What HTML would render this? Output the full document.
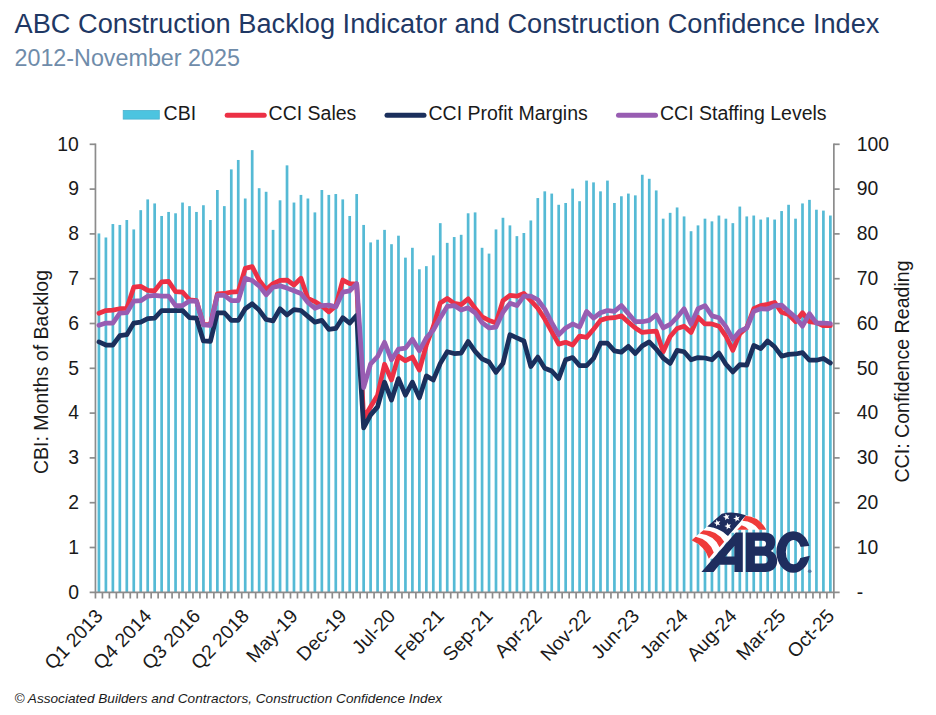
<!DOCTYPE html>
<html><head><meta charset="utf-8"><title>ABC CBI and CCI</title>
<style>html,body{margin:0;padding:0;background:#fff;}body{width:936px;height:715px;overflow:hidden;position:relative;font-family:"Liberation Sans",sans-serif;}svg{position:absolute;left:0;top:0;}text{font-family:"Liberation Sans",sans-serif;}</style>
</head><body>
<svg width="936" height="715" viewBox="0 0 936 715">
<rect width="936" height="715" fill="#ffffff"/>
<text x="14.5" y="32.8" font-size="27.21" fill="#1f3864">ABC Construction Backlog Indicator and Construction Confidence Index</text>
<text x="14.5" y="65.5" font-size="23.3" fill="#6f8caa">2012-November 2025</text>
<rect x="123.2" y="110.4" width="36.1" height="8.7" fill="#4cc4e0" stroke="#4bb2cf" stroke-width="0.8"/>
<text x="163.6" y="120.2" font-size="19.5" fill="#1a1a1a">CBI</text>
<line x1="227.2" y1="115.2" x2="264.2" y2="115.2" stroke="#ec3045" stroke-width="5" stroke-linecap="round"/>
<text x="268.6" y="120.2" font-size="19.5" fill="#1a1a1a">CCI Sales</text>
<line x1="387" y1="115.2" x2="424" y2="115.2" stroke="#1b2f5c" stroke-width="5" stroke-linecap="round"/>
<text x="428.5" y="120.2" font-size="19.5" fill="#1a1a1a">CCI Profit Margins</text>
<line x1="618.5" y1="115.2" x2="655.5" y2="115.2" stroke="#985db2" stroke-width="5" stroke-linecap="round"/>
<text x="660" y="120.2" font-size="19.5" fill="#1a1a1a">CCI Staffing Levels</text>
<g fill="#55bad5">
<rect x="97.58" y="233.45" width="2.7" height="358.85"/>
<rect x="104.55" y="237.48" width="2.7" height="354.82"/>
<rect x="111.52" y="224.04" width="2.7" height="368.26"/>
<rect x="118.48" y="224.94" width="2.7" height="367.36"/>
<rect x="125.45" y="220.01" width="2.7" height="372.29"/>
<rect x="132.41" y="229.42" width="2.7" height="362.88"/>
<rect x="139.38" y="210.16" width="2.7" height="382.14"/>
<rect x="146.35" y="199.40" width="2.7" height="392.90"/>
<rect x="153.31" y="203.44" width="2.7" height="388.86"/>
<rect x="160.28" y="215.98" width="2.7" height="376.32"/>
<rect x="167.24" y="211.95" width="2.7" height="380.35"/>
<rect x="174.21" y="213.29" width="2.7" height="379.01"/>
<rect x="181.18" y="202.54" width="2.7" height="389.76"/>
<rect x="188.14" y="206.12" width="2.7" height="386.18"/>
<rect x="195.11" y="211.95" width="2.7" height="380.35"/>
<rect x="202.07" y="205.23" width="2.7" height="387.07"/>
<rect x="209.04" y="220.01" width="2.7" height="372.29"/>
<rect x="216.01" y="190.00" width="2.7" height="402.30"/>
<rect x="222.97" y="206.12" width="2.7" height="386.18"/>
<rect x="229.94" y="169.39" width="2.7" height="422.91"/>
<rect x="236.90" y="159.98" width="2.7" height="432.32"/>
<rect x="243.87" y="198.51" width="2.7" height="393.79"/>
<rect x="250.84" y="150.12" width="2.7" height="442.18"/>
<rect x="257.80" y="188.20" width="2.7" height="404.10"/>
<rect x="264.77" y="191.79" width="2.7" height="400.51"/>
<rect x="271.73" y="229.87" width="2.7" height="362.43"/>
<rect x="278.70" y="200.30" width="2.7" height="392.00"/>
<rect x="285.67" y="165.36" width="2.7" height="426.94"/>
<rect x="292.63" y="202.54" width="2.7" height="389.76"/>
<rect x="299.60" y="194.92" width="2.7" height="397.38"/>
<rect x="306.56" y="198.51" width="2.7" height="393.79"/>
<rect x="313.53" y="212.40" width="2.7" height="379.90"/>
<rect x="320.50" y="190.00" width="2.7" height="402.30"/>
<rect x="327.46" y="194.92" width="2.7" height="397.38"/>
<rect x="334.43" y="194.03" width="2.7" height="398.27"/>
<rect x="341.39" y="199.40" width="2.7" height="392.90"/>
<rect x="348.36" y="215.98" width="2.7" height="376.32"/>
<rect x="355.33" y="194.03" width="2.7" height="398.27"/>
<rect x="362.29" y="224.94" width="2.7" height="367.36"/>
<rect x="369.26" y="242.41" width="2.7" height="349.89"/>
<rect x="376.22" y="239.72" width="2.7" height="352.58"/>
<rect x="383.19" y="229.87" width="2.7" height="362.43"/>
<rect x="390.16" y="244.20" width="2.7" height="348.10"/>
<rect x="397.12" y="235.69" width="2.7" height="356.61"/>
<rect x="404.09" y="257.64" width="2.7" height="334.66"/>
<rect x="411.05" y="247.79" width="2.7" height="344.51"/>
<rect x="418.02" y="269.29" width="2.7" height="323.01"/>
<rect x="424.99" y="266.16" width="2.7" height="326.14"/>
<rect x="431.95" y="255.40" width="2.7" height="336.90"/>
<rect x="438.92" y="223.15" width="2.7" height="369.15"/>
<rect x="445.88" y="242.86" width="2.7" height="349.44"/>
<rect x="452.85" y="237.04" width="2.7" height="355.26"/>
<rect x="459.82" y="234.80" width="2.7" height="357.50"/>
<rect x="466.78" y="213.29" width="2.7" height="379.01"/>
<rect x="473.75" y="212.40" width="2.7" height="379.90"/>
<rect x="480.72" y="247.79" width="2.7" height="344.51"/>
<rect x="487.68" y="253.61" width="2.7" height="338.69"/>
<rect x="494.65" y="229.42" width="2.7" height="362.88"/>
<rect x="501.61" y="217.77" width="2.7" height="374.53"/>
<rect x="508.58" y="225.39" width="2.7" height="366.91"/>
<rect x="515.55" y="236.14" width="2.7" height="356.16"/>
<rect x="522.51" y="233.00" width="2.7" height="359.30"/>
<rect x="529.48" y="220.46" width="2.7" height="371.84"/>
<rect x="536.44" y="198.06" width="2.7" height="394.24"/>
<rect x="543.41" y="191.34" width="2.7" height="400.96"/>
<rect x="550.38" y="193.58" width="2.7" height="398.72"/>
<rect x="557.34" y="204.78" width="2.7" height="387.52"/>
<rect x="564.31" y="202.99" width="2.7" height="389.31"/>
<rect x="571.27" y="188.65" width="2.7" height="403.65"/>
<rect x="578.24" y="201.20" width="2.7" height="391.10"/>
<rect x="585.21" y="180.59" width="2.7" height="411.71"/>
<rect x="592.17" y="182.38" width="2.7" height="409.92"/>
<rect x="599.14" y="191.34" width="2.7" height="400.96"/>
<rect x="606.10" y="180.59" width="2.7" height="411.71"/>
<rect x="613.07" y="202.99" width="2.7" height="389.31"/>
<rect x="620.04" y="196.27" width="2.7" height="396.03"/>
<rect x="627.00" y="193.58" width="2.7" height="398.72"/>
<rect x="633.97" y="195.37" width="2.7" height="396.93"/>
<rect x="640.93" y="174.76" width="2.7" height="417.54"/>
<rect x="647.90" y="178.80" width="2.7" height="413.50"/>
<rect x="654.87" y="190.44" width="2.7" height="401.86"/>
<rect x="661.83" y="218.67" width="2.7" height="373.63"/>
<rect x="668.80" y="212.84" width="2.7" height="379.46"/>
<rect x="675.76" y="207.47" width="2.7" height="384.83"/>
<rect x="682.73" y="216.43" width="2.7" height="375.87"/>
<rect x="689.70" y="231.21" width="2.7" height="361.09"/>
<rect x="696.66" y="225.39" width="2.7" height="366.91"/>
<rect x="703.63" y="218.67" width="2.7" height="373.63"/>
<rect x="710.59" y="221.36" width="2.7" height="370.94"/>
<rect x="717.56" y="215.53" width="2.7" height="376.77"/>
<rect x="724.53" y="218.67" width="2.7" height="373.63"/>
<rect x="731.49" y="223.15" width="2.7" height="369.15"/>
<rect x="738.46" y="206.57" width="2.7" height="385.73"/>
<rect x="745.42" y="216.43" width="2.7" height="375.87"/>
<rect x="752.39" y="215.53" width="2.7" height="376.77"/>
<rect x="759.36" y="219.56" width="2.7" height="372.74"/>
<rect x="766.32" y="217.32" width="2.7" height="374.98"/>
<rect x="773.29" y="219.56" width="2.7" height="372.74"/>
<rect x="780.25" y="211.05" width="2.7" height="381.25"/>
<rect x="787.22" y="204.78" width="2.7" height="387.52"/>
<rect x="794.19" y="218.67" width="2.7" height="373.63"/>
<rect x="801.15" y="203.44" width="2.7" height="388.86"/>
<rect x="808.12" y="199.85" width="2.7" height="392.45"/>
<rect x="815.08" y="209.71" width="2.7" height="382.59"/>
<rect x="822.05" y="210.60" width="2.7" height="381.70"/>
<rect x="829.02" y="215.53" width="2.7" height="376.77"/>
</g>
<g stroke="#8c8c8c" stroke-width="1.7" fill="none">
<line x1="95.45" y1="143.55" x2="95.45" y2="593.05"/>
<line x1="833.85" y1="143.55" x2="833.85" y2="593.05"/>
<line x1="89.65" y1="592.3" x2="839.65" y2="592.3"/>
<line x1="89.65" y1="547.50" x2="95.45" y2="547.50"/>
<line x1="833.85" y1="547.50" x2="839.65" y2="547.50"/>
<line x1="89.65" y1="502.70" x2="95.45" y2="502.70"/>
<line x1="833.85" y1="502.70" x2="839.65" y2="502.70"/>
<line x1="89.65" y1="457.90" x2="95.45" y2="457.90"/>
<line x1="833.85" y1="457.90" x2="839.65" y2="457.90"/>
<line x1="89.65" y1="413.10" x2="95.45" y2="413.10"/>
<line x1="833.85" y1="413.10" x2="839.65" y2="413.10"/>
<line x1="89.65" y1="368.30" x2="95.45" y2="368.30"/>
<line x1="833.85" y1="368.30" x2="839.65" y2="368.30"/>
<line x1="89.65" y1="323.50" x2="95.45" y2="323.50"/>
<line x1="833.85" y1="323.50" x2="839.65" y2="323.50"/>
<line x1="89.65" y1="278.70" x2="95.45" y2="278.70"/>
<line x1="833.85" y1="278.70" x2="839.65" y2="278.70"/>
<line x1="89.65" y1="233.90" x2="95.45" y2="233.90"/>
<line x1="833.85" y1="233.90" x2="839.65" y2="233.90"/>
<line x1="89.65" y1="189.10" x2="95.45" y2="189.10"/>
<line x1="833.85" y1="189.10" x2="839.65" y2="189.10"/>
<line x1="89.65" y1="144.30" x2="95.45" y2="144.30"/>
<line x1="833.85" y1="144.30" x2="839.65" y2="144.30"/>
<line x1="95.45" y1="592.3" x2="95.45" y2="598.5"/>
<line x1="102.42" y1="592.3" x2="102.42" y2="598.5"/>
<line x1="109.38" y1="592.3" x2="109.38" y2="598.5"/>
<line x1="116.35" y1="592.3" x2="116.35" y2="598.5"/>
<line x1="123.31" y1="592.3" x2="123.31" y2="598.5"/>
<line x1="130.28" y1="592.3" x2="130.28" y2="598.5"/>
<line x1="137.25" y1="592.3" x2="137.25" y2="598.5"/>
<line x1="144.21" y1="592.3" x2="144.21" y2="598.5"/>
<line x1="151.18" y1="592.3" x2="151.18" y2="598.5"/>
<line x1="158.14" y1="592.3" x2="158.14" y2="598.5"/>
<line x1="165.11" y1="592.3" x2="165.11" y2="598.5"/>
<line x1="172.08" y1="592.3" x2="172.08" y2="598.5"/>
<line x1="179.04" y1="592.3" x2="179.04" y2="598.5"/>
<line x1="186.01" y1="592.3" x2="186.01" y2="598.5"/>
<line x1="192.97" y1="592.3" x2="192.97" y2="598.5"/>
<line x1="199.94" y1="592.3" x2="199.94" y2="598.5"/>
<line x1="206.91" y1="592.3" x2="206.91" y2="598.5"/>
<line x1="213.87" y1="592.3" x2="213.87" y2="598.5"/>
<line x1="220.84" y1="592.3" x2="220.84" y2="598.5"/>
<line x1="227.80" y1="592.3" x2="227.80" y2="598.5"/>
<line x1="234.77" y1="592.3" x2="234.77" y2="598.5"/>
<line x1="241.74" y1="592.3" x2="241.74" y2="598.5"/>
<line x1="248.70" y1="592.3" x2="248.70" y2="598.5"/>
<line x1="255.67" y1="592.3" x2="255.67" y2="598.5"/>
<line x1="262.63" y1="592.3" x2="262.63" y2="598.5"/>
<line x1="269.60" y1="592.3" x2="269.60" y2="598.5"/>
<line x1="276.57" y1="592.3" x2="276.57" y2="598.5"/>
<line x1="283.53" y1="592.3" x2="283.53" y2="598.5"/>
<line x1="290.50" y1="592.3" x2="290.50" y2="598.5"/>
<line x1="297.47" y1="592.3" x2="297.47" y2="598.5"/>
<line x1="304.43" y1="592.3" x2="304.43" y2="598.5"/>
<line x1="311.40" y1="592.3" x2="311.40" y2="598.5"/>
<line x1="318.36" y1="592.3" x2="318.36" y2="598.5"/>
<line x1="325.33" y1="592.3" x2="325.33" y2="598.5"/>
<line x1="332.30" y1="592.3" x2="332.30" y2="598.5"/>
<line x1="339.26" y1="592.3" x2="339.26" y2="598.5"/>
<line x1="346.23" y1="592.3" x2="346.23" y2="598.5"/>
<line x1="353.19" y1="592.3" x2="353.19" y2="598.5"/>
<line x1="360.16" y1="592.3" x2="360.16" y2="598.5"/>
<line x1="367.13" y1="592.3" x2="367.13" y2="598.5"/>
<line x1="374.09" y1="592.3" x2="374.09" y2="598.5"/>
<line x1="381.06" y1="592.3" x2="381.06" y2="598.5"/>
<line x1="388.02" y1="592.3" x2="388.02" y2="598.5"/>
<line x1="394.99" y1="592.3" x2="394.99" y2="598.5"/>
<line x1="401.96" y1="592.3" x2="401.96" y2="598.5"/>
<line x1="408.92" y1="592.3" x2="408.92" y2="598.5"/>
<line x1="415.89" y1="592.3" x2="415.89" y2="598.5"/>
<line x1="422.85" y1="592.3" x2="422.85" y2="598.5"/>
<line x1="429.82" y1="592.3" x2="429.82" y2="598.5"/>
<line x1="436.79" y1="592.3" x2="436.79" y2="598.5"/>
<line x1="443.75" y1="592.3" x2="443.75" y2="598.5"/>
<line x1="450.72" y1="592.3" x2="450.72" y2="598.5"/>
<line x1="457.68" y1="592.3" x2="457.68" y2="598.5"/>
<line x1="464.65" y1="592.3" x2="464.65" y2="598.5"/>
<line x1="471.62" y1="592.3" x2="471.62" y2="598.5"/>
<line x1="478.58" y1="592.3" x2="478.58" y2="598.5"/>
<line x1="485.55" y1="592.3" x2="485.55" y2="598.5"/>
<line x1="492.51" y1="592.3" x2="492.51" y2="598.5"/>
<line x1="499.48" y1="592.3" x2="499.48" y2="598.5"/>
<line x1="506.45" y1="592.3" x2="506.45" y2="598.5"/>
<line x1="513.41" y1="592.3" x2="513.41" y2="598.5"/>
<line x1="520.38" y1="592.3" x2="520.38" y2="598.5"/>
<line x1="527.34" y1="592.3" x2="527.34" y2="598.5"/>
<line x1="534.31" y1="592.3" x2="534.31" y2="598.5"/>
<line x1="541.28" y1="592.3" x2="541.28" y2="598.5"/>
<line x1="548.24" y1="592.3" x2="548.24" y2="598.5"/>
<line x1="555.21" y1="592.3" x2="555.21" y2="598.5"/>
<line x1="562.17" y1="592.3" x2="562.17" y2="598.5"/>
<line x1="569.14" y1="592.3" x2="569.14" y2="598.5"/>
<line x1="576.11" y1="592.3" x2="576.11" y2="598.5"/>
<line x1="583.07" y1="592.3" x2="583.07" y2="598.5"/>
<line x1="590.04" y1="592.3" x2="590.04" y2="598.5"/>
<line x1="597.00" y1="592.3" x2="597.00" y2="598.5"/>
<line x1="603.97" y1="592.3" x2="603.97" y2="598.5"/>
<line x1="610.94" y1="592.3" x2="610.94" y2="598.5"/>
<line x1="617.90" y1="592.3" x2="617.90" y2="598.5"/>
<line x1="624.87" y1="592.3" x2="624.87" y2="598.5"/>
<line x1="631.83" y1="592.3" x2="631.83" y2="598.5"/>
<line x1="638.80" y1="592.3" x2="638.80" y2="598.5"/>
<line x1="645.77" y1="592.3" x2="645.77" y2="598.5"/>
<line x1="652.73" y1="592.3" x2="652.73" y2="598.5"/>
<line x1="659.70" y1="592.3" x2="659.70" y2="598.5"/>
<line x1="666.67" y1="592.3" x2="666.67" y2="598.5"/>
<line x1="673.63" y1="592.3" x2="673.63" y2="598.5"/>
<line x1="680.60" y1="592.3" x2="680.60" y2="598.5"/>
<line x1="687.56" y1="592.3" x2="687.56" y2="598.5"/>
<line x1="694.53" y1="592.3" x2="694.53" y2="598.5"/>
<line x1="701.50" y1="592.3" x2="701.50" y2="598.5"/>
<line x1="708.46" y1="592.3" x2="708.46" y2="598.5"/>
<line x1="715.43" y1="592.3" x2="715.43" y2="598.5"/>
<line x1="722.39" y1="592.3" x2="722.39" y2="598.5"/>
<line x1="729.36" y1="592.3" x2="729.36" y2="598.5"/>
<line x1="736.33" y1="592.3" x2="736.33" y2="598.5"/>
<line x1="743.29" y1="592.3" x2="743.29" y2="598.5"/>
<line x1="750.26" y1="592.3" x2="750.26" y2="598.5"/>
<line x1="757.22" y1="592.3" x2="757.22" y2="598.5"/>
<line x1="764.19" y1="592.3" x2="764.19" y2="598.5"/>
<line x1="771.16" y1="592.3" x2="771.16" y2="598.5"/>
<line x1="778.12" y1="592.3" x2="778.12" y2="598.5"/>
<line x1="785.09" y1="592.3" x2="785.09" y2="598.5"/>
<line x1="792.05" y1="592.3" x2="792.05" y2="598.5"/>
<line x1="799.02" y1="592.3" x2="799.02" y2="598.5"/>
<line x1="805.99" y1="592.3" x2="805.99" y2="598.5"/>
<line x1="812.95" y1="592.3" x2="812.95" y2="598.5"/>
<line x1="819.92" y1="592.3" x2="819.92" y2="598.5"/>
<line x1="826.88" y1="592.3" x2="826.88" y2="598.5"/>
<line x1="833.85" y1="592.3" x2="833.85" y2="598.5"/>
</g>
<polyline points="98.93,313.20 105.90,310.51 112.87,310.06 119.83,308.72 126.80,308.27 133.76,287.21 140.73,286.32 147.70,290.35 154.66,290.80 161.63,281.84 168.59,281.39 175.56,291.69 182.53,292.14 189.49,299.76 196.46,300.65 203.42,324.40 210.39,324.84 217.36,293.93 224.32,293.48 231.29,292.14 238.25,291.69 245.22,268.40 252.19,266.60 259.15,280.04 266.12,289.45 273.08,283.63 280.05,280.49 287.02,280.04 293.98,284.97 300.95,278.25 307.91,298.41 314.88,301.55 321.85,306.03 328.81,311.85 335.78,306.03 342.74,280.04 349.71,283.63 356.68,284.08 363.64,418.48 370.61,406.83 377.57,395.18 384.54,364.27 391.51,379.95 398.47,356.20 405.44,360.68 412.40,357.10 419.37,370.09 426.34,345.00 433.30,326.64 440.27,302.89 447.23,298.41 454.20,303.34 461.17,304.68 468.13,298.86 475.10,308.27 482.07,316.78 489.03,320.36 496.00,323.05 502.96,300.65 509.93,295.28 516.90,296.17 523.86,293.48 530.83,300.65 537.79,308.27 544.76,319.02 551.73,331.56 558.69,344.11 565.66,342.32 572.62,345.00 579.59,336.04 586.56,337.39 593.52,329.32 600.49,320.36 607.45,318.12 614.42,317.68 621.39,315.88 628.35,322.16 635.32,327.98 642.28,332.46 649.25,331.56 656.22,331.12 663.18,351.72 670.15,336.49 677.11,328.43 684.08,326.19 691.05,332.46 698.01,317.23 704.98,323.95 711.94,323.95 718.91,326.19 725.88,336.04 732.84,350.38 739.81,333.80 746.77,327.53 753.74,308.72 760.71,305.58 767.67,304.24 774.64,302.44 781.60,312.30 788.57,314.54 795.54,321.71 802.50,312.75 809.47,321.71 816.43,322.60 823.40,325.74 830.37,325.74" fill="none" stroke="#ec3045" stroke-width="4.75" stroke-linejoin="round" stroke-linecap="round"/>
<polyline points="98.93,341.87 105.90,345.00 112.87,345.00 119.83,335.60 126.80,334.70 133.76,323.05 140.73,322.16 147.70,318.57 154.66,318.12 161.63,310.51 168.59,310.51 175.56,310.51 182.53,310.51 189.49,317.68 196.46,318.12 203.42,340.97 210.39,341.42 217.36,312.75 224.32,312.75 231.29,320.36 238.25,320.36 245.22,308.72 252.19,303.79 259.15,310.06 266.12,319.47 273.08,320.81 280.05,308.72 287.02,314.99 293.98,309.61 300.95,310.51 307.91,316.33 314.88,322.16 321.85,320.36 328.81,329.32 335.78,328.43 342.74,317.68 349.71,323.05 356.68,315.44 363.64,427.88 370.61,414.89 377.57,406.83 384.54,382.19 391.51,400.11 398.47,378.60 405.44,395.18 412.40,382.19 419.37,397.87 426.34,375.92 433.30,379.95 440.27,363.37 447.23,351.72 454.20,353.52 461.17,353.07 468.13,341.42 475.10,351.28 482.07,358.89 489.03,362.03 496.00,372.33 502.96,363.37 509.93,334.70 516.90,337.84 523.86,340.97 530.83,366.51 537.79,357.10 544.76,368.30 551.73,370.99 558.69,378.60 565.66,359.79 572.62,357.55 579.59,365.61 586.56,365.61 593.52,358.44 600.49,343.21 607.45,343.21 614.42,350.83 621.39,352.17 628.35,346.35 635.32,353.52 642.28,345.90 649.25,341.87 656.22,349.04 663.18,358.00 670.15,363.37 677.11,350.38 684.08,351.72 691.05,359.79 698.01,357.55 704.98,358.00 711.94,359.79 718.91,353.07 725.88,364.27 732.84,371.88 739.81,364.72 746.77,365.16 753.74,345.45 760.71,348.59 767.67,340.97 774.64,346.80 781.60,356.20 788.57,354.41 795.54,353.96 802.50,352.62 809.47,360.24 816.43,360.24 823.40,358.44 830.37,362.92" fill="none" stroke="#1b2f5c" stroke-width="4.75" stroke-linejoin="round" stroke-linecap="round"/>
<polyline points="98.93,325.29 105.90,323.05 112.87,323.05 119.83,313.20 126.80,312.75 133.76,301.10 140.73,300.65 147.70,296.17 154.66,295.28 161.63,296.17 168.59,296.17 175.56,305.58 182.53,305.58 189.49,301.10 196.46,301.10 203.42,324.84 210.39,325.29 217.36,295.28 224.32,295.28 231.29,300.65 238.25,300.65 245.22,278.25 252.19,280.49 259.15,285.87 266.12,294.83 273.08,287.21 280.05,285.87 287.02,288.11 293.98,290.80 300.95,293.48 307.91,302.44 314.88,308.27 321.85,305.58 328.81,305.13 335.78,306.92 342.74,292.14 349.71,290.80 356.68,283.63 363.64,387.56 370.61,363.82 377.57,356.65 384.54,342.32 391.51,359.79 398.47,349.04 405.44,348.14 412.40,339.18 419.37,350.83 426.34,337.84 433.30,330.22 440.27,317.68 447.23,306.48 454.20,305.58 461.17,310.06 468.13,307.82 475.10,312.75 482.07,322.60 489.03,327.98 496.00,327.08 502.96,312.30 509.93,303.34 516.90,305.58 523.86,296.17 530.83,296.17 537.79,299.76 544.76,309.16 551.73,322.60 558.69,334.70 565.66,327.98 572.62,323.95 579.59,327.08 586.56,311.40 593.52,318.12 600.49,312.75 607.45,310.51 614.42,311.40 621.39,305.58 628.35,313.64 635.32,321.71 642.28,321.71 649.25,320.36 656.22,314.99 663.18,327.98 670.15,324.40 677.11,317.23 684.08,308.72 691.05,323.95 698.01,308.72 704.98,305.58 711.94,315.88 718.91,317.68 725.88,326.64 732.84,339.18 739.81,331.12 746.77,327.98 753.74,311.40 760.71,308.72 767.67,309.16 774.64,305.58 781.60,305.13 788.57,311.40 795.54,317.23 802.50,326.19 809.47,313.64 816.43,323.05 823.40,323.05 830.37,323.50" fill="none" stroke="#985db2" stroke-width="4.75" stroke-linejoin="round" stroke-linecap="round"/>
<g font-size="19.35" fill="#1a1a1a">
<text x="78.9" y="598.60" text-anchor="end">0</text>
<text x="78.9" y="553.80" text-anchor="end">1</text>
<text x="78.9" y="509.00" text-anchor="end">2</text>
<text x="78.9" y="464.20" text-anchor="end">3</text>
<text x="78.9" y="419.40" text-anchor="end">4</text>
<text x="78.9" y="374.60" text-anchor="end">5</text>
<text x="78.9" y="329.80" text-anchor="end">6</text>
<text x="78.9" y="285.00" text-anchor="end">7</text>
<text x="78.9" y="240.20" text-anchor="end">8</text>
<text x="78.9" y="195.40" text-anchor="end">9</text>
<text x="78.9" y="150.60" text-anchor="end">10</text>
<text x="856.8" y="553.80">10</text>
<text x="856.8" y="509.00">20</text>
<text x="856.8" y="464.20">30</text>
<text x="856.8" y="419.40">40</text>
<text x="856.8" y="374.60">50</text>
<text x="856.8" y="329.80">60</text>
<text x="856.8" y="285.00">70</text>
<text x="856.8" y="240.20">80</text>
<text x="856.8" y="195.40">90</text>
<text x="856.8" y="150.60">100</text>
<text x="856.8" y="598.60">-</text>
<text transform="translate(103.93,617.0) rotate(-46.5)" text-anchor="end">Q1 2013</text>
<text transform="translate(152.70,617.0) rotate(-46.5)" text-anchor="end">Q4 2014</text>
<text transform="translate(201.46,617.0) rotate(-46.5)" text-anchor="end">Q3 2016</text>
<text transform="translate(250.22,617.0) rotate(-46.5)" text-anchor="end">Q2 2018</text>
<text transform="translate(298.98,617.0) rotate(-46.5)" text-anchor="end">May-19</text>
<text transform="translate(347.74,617.0) rotate(-46.5)" text-anchor="end">Dec-19</text>
<text transform="translate(396.51,617.0) rotate(-46.5)" text-anchor="end">Jul-20</text>
<text transform="translate(445.27,617.0) rotate(-46.5)" text-anchor="end">Feb-21</text>
<text transform="translate(494.03,617.0) rotate(-46.5)" text-anchor="end">Sep-21</text>
<text transform="translate(542.79,617.0) rotate(-46.5)" text-anchor="end">Apr-22</text>
<text transform="translate(591.56,617.0) rotate(-46.5)" text-anchor="end">Nov-22</text>
<text transform="translate(640.32,617.0) rotate(-46.5)" text-anchor="end">Jun-23</text>
<text transform="translate(689.08,617.0) rotate(-46.5)" text-anchor="end">Jan-24</text>
<text transform="translate(737.84,617.0) rotate(-46.5)" text-anchor="end">Aug-24</text>
<text transform="translate(786.60,617.0) rotate(-46.5)" text-anchor="end">Mar-25</text>
<text transform="translate(835.37,617.0) rotate(-46.5)" text-anchor="end">Oct-25</text>
<text font-size="19.55" transform="translate(48.4,372) rotate(-90)" text-anchor="middle">CBI: Months of Backlog</text>
<text font-size="19.6" transform="translate(908.9,371.5) rotate(-90)" text-anchor="middle">CCI: Confidence Reading</text>
</g>
<text x="14.5" y="703.1" font-size="13.64" font-style="italic" fill="#1a1a1a">© Associated Builders and Contractors, Construction Confidence Index</text>
<defs><clipPath id="cclip"><path d="M770,525 H815 V580 H770 Z M795,547.6 L813,545.4 L813,555.1 L795,559.3 Z" clip-rule="evenodd"/></clipPath></defs>
<g id="logo">
<!-- white backing of flag stripes (left) -->
<path d="M707.2,526.5 Q719.5,527.5 728,536.1 L731.4,536.8 L712.6,558.8 L708.8,558.8 Q704.5,546 691.5,540.3 Z" fill="#ffffff"/>
<!-- white backing right stripes -->
<path d="M745.7,515.3 Q759,516.5 766.4,529.8 L736.8,529.8 L734.5,532.8 L731,532.8 Z" fill="#ffffff"/>
<!-- red stripes left -->
<path d="M703.4,530.2 Q717.5,530.2 724.2,541.8 L719.5,547.3 Q714.5,535.2 699.5,533.5 Z" fill="#ef3b39"/>
<path d="M695.7,536.7 Q709.2,539.5 713.8,552.4 L708.8,558.8 Q704.5,546 691.5,540.3 Z" fill="#ef3b39"/>
<!-- red stripes right -->
<path d="M745.4,515.8 Q759.5,516.8 766.4,529.8 L759,529.8 Q753.5,521.5 742.5,520.7 Z" fill="#ef3b39"/>
<path d="M741.6,525.2 Q746,526.3 748.6,529.8 L737.2,529.8 Z" fill="#ef3b39"/>
<!-- canton -->
<path d="M707.2,526.5 L721.8,513.8 Q733,510.6 745.9,515.2 L728,536.1 Q719.5,527.5 707.2,526.5 Z" fill="#1e2d5e"/>
<!-- stars -->
<g fill="#ffffff">
<path d="M0,-3.6 L0.96,-1.14 L3.42,-1.12 L1.44,0.54 L2.11,2.92 L0,1.56 L-2.11,2.92 L-1.44,0.54 L-3.42,-1.12 L-0.96,-1.14 Z" transform="translate(726.5,516.9) rotate(-15)"/>
<path d="M0,-3.6 L0.96,-1.14 L3.42,-1.12 L1.44,0.54 L2.11,2.92 L0,1.56 L-2.11,2.92 L-1.44,0.54 L-3.42,-1.12 L-0.96,-1.14 Z" transform="translate(736.8,518.5) rotate(-15)"/>
<path d="M0,-3.6 L0.96,-1.14 L3.42,-1.12 L1.44,0.54 L2.11,2.92 L0,1.56 L-2.11,2.92 L-1.44,0.54 L-3.42,-1.12 L-0.96,-1.14 Z" transform="translate(717.3,523) rotate(-15)"/>
<path d="M0,-3.6 L0.96,-1.14 L3.42,-1.12 L1.44,0.54 L2.11,2.92 L0,1.56 L-2.11,2.92 L-1.44,0.54 L-3.42,-1.12 L-0.96,-1.14 Z" transform="translate(728,526.2) rotate(-15)"/>
</g>
<!-- A -->
<path d="M701.4,572 L713.6,572 L719.4,564.7 L734.4,564.7 L734.4,572 L742.8,572 L742.8,532.4 L735.8,532.4 Z M725.4,556.5 L734.3,546 L734.3,556.5 Z" fill="#1e2d5e" fill-rule="evenodd"/>
<!-- B -->
<path d="M745.8,532.4 H765 C771,532.4 775.3,536 775.3,542 C775.3,546.5 773.5,549.5 770.8,551 C774.5,552.5 777.2,556 777.2,561 C777.2,568 772,572 765.5,572 H745.8 Z M754.8,540.8 H763 Q766,540.8 766,543.7 Q766,546.6 763,546.6 H754.8 Z M754.8,555.7 H764 Q767.7,555.7 767.7,559.6 Q767.7,563.5 764,563.5 H754.8 Z" fill="#1e2d5e" fill-rule="evenodd"/>
<!-- C -->
<path clip-path="url(#cclip)" fill="#1e2d5e" fill-rule="evenodd" d="M776.4,552 A16.85,20.7 0 1 0 810.1,552 A16.85,20.7 0 1 0 776.4,552 Z M785.8,552.1 A7.8,12.1 0 1 0 801.4,552.1 A7.8,12.1 0 1 0 785.8,552.1 Z"/>
<circle cx="809.7" cy="571.2" r="1.8" fill="#4f789f"/>
</g>

</svg></body></html>
